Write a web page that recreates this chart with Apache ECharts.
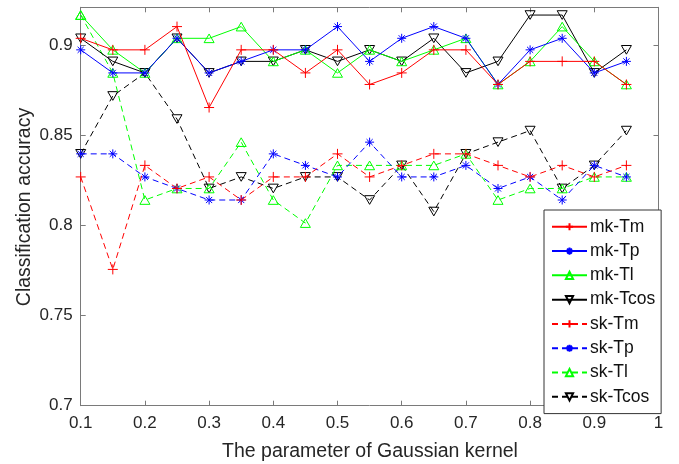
<!DOCTYPE html>
<html>
<head>
<meta charset="utf-8">
<script src="https://cdn.jsdelivr.net/npm/echarts@6/dist/echarts.min.js"></script>
<style>html,body{margin:0;padding:0;background:#fff;}#c{width:679px;height:464px;}</style>
</head>
<body>
<div id="c"></div>
<script>
const xVals = [0.1,0.15,0.2,0.25,0.3,0.35,0.4,0.45,0.5,0.55,0.6,0.65,0.7,0.75,0.8,0.85,0.9,0.95];
const xTicks = [0.1,0.2,0.3,0.4,0.5,0.6,0.7,0.8,0.9,1];
const yTicks = [0.7,0.75,0.8,0.85,0.9];
const xTitle = 'The parameter of Gaussian kernel';
const yTitle = 'Classification accuracy';
const seriesNames = ['mk-Tm','mk-Tp','mk-Tl','mk-Tcos','sk-Tm','sk-Tp','sk-Tl','sk-Tcos'];
const mkTm   = [0.9038,0.8974,0.8974,0.9103,0.8654,0.8974,0.8974,0.8846,0.8974,0.8782,0.8846,0.8974,0.8974,0.8782,0.8910,0.8910,0.8910,0.8782];
const mkTp   = [0.8974,0.8846,0.8846,0.9038,0.8846,0.8910,0.8974,0.8974,0.9103,0.8910,0.9038,0.9103,0.9038,0.8782,0.8974,0.9038,0.8846,0.8910];
const mkTl   = [0.9167,0.8974,0.8846,0.9038,0.9038,0.9103,0.8910,0.8974,0.8846,0.8974,0.8910,0.8974,0.9038,0.8782,0.8910,0.9103,0.8910,0.8782];
const mkTcos = [0.9038,0.8910,0.8846,0.9038,0.8846,0.8910,0.8910,0.8974,0.8910,0.8974,0.8910,0.9038,0.8846,0.8910,0.9167,0.9167,0.8846,0.8974];
const skTm   = [0.8269,0.7756,0.8333,0.8205,0.8269,0.8141,0.8269,0.8269,0.8397,0.8269,0.8333,0.8397,0.8397,0.8333,0.8269,0.8333,0.8269,0.8333];
const skTp   = [0.8397,0.8397,0.8269,0.8205,0.8141,0.8141,0.8397,0.8333,0.8269,0.8462,0.8269,0.8269,0.8333,0.8205,0.8269,0.8141,0.8333,0.8269];
const skTl   = [0.9167,0.8846,0.8141,0.8205,0.8205,0.8462,0.8141,0.8013,0.8333,0.8333,0.8333,0.8333,0.8397,0.8141,0.8205,0.8205,0.8269,0.8269];
const skTcos = [0.8397,0.8718,0.8846,0.8590,0.8205,0.8269,0.8205,0.8269,0.8269,0.8141,0.8333,0.8077,0.8397,0.8462,0.8526,0.8205,0.8333,0.8526];

const allData = [mkTm,mkTp,mkTl,mkTcos,skTm,skTp,skTl,skTcos];
const colors = ['#ff0000','#0000ff','#00ff00','#000000','#ff0000','#0000ff','#00ff00','#000000'];
const PLUS = 'path://M0,5L10,5M5,0L5,10';
const STAR = 'path://M0,5L10,5M5,0L5,10M1.6,1.6L8.4,8.4M1.6,8.4L8.4,1.6';
const TUP = 'path://M5,0L10,8.66L0,8.66Z';
const TDN = 'path://M0,0L10,0L5,8.66Z';
const symbols = [PLUS,STAR,TUP,TDN,PLUS,STAR,TUP,TDN];
const sizes = [10,9,10,10,10,9,10,10];
const FONT = '"Liberation Sans", Arial, Helvetica, sans-serif';
const AX = '#7a7a7a';

const series = seriesNames.map((n,i)=>({
  name:n, type:'line',
  data: xVals.map((x,j)=>[x, allData[i][j]]),
  symbol: symbols[i], symbolSize: sizes[i], symbolKeepAspect:true,
  showAllSymbol:true,
  color: colors[i],
  lineStyle:{color:colors[i], width:1, type: i<4 ? 'solid' : [6,4]},
  itemStyle:{color:'rgba(0,0,0,0)', borderColor:colors[i], borderWidth:1},
  emphasis:{disabled:true},
  animation:false,
  z: 10 - i
}));

const chart = echarts.init(document.getElementById('c'));
chart.setOption({
  backgroundColor:'#fff',
  animation:false,
  grid:{left:80.7, right:20.5, top:7.3, bottom:58.3, containLabel:false},
  xAxis:[{
    type:'value', min:0.1, max:1, position:'bottom',
    axisLine:{show:true, lineStyle:{color:AX, width:1}},
    axisTick:{show:true, inside:true, length:5, customValues:xTicks, lineStyle:{color:AX}},
    axisLabel:{show:true, customValues:xTicks, margin:9, fontFamily:FONT, fontSize:17, color:'#262626',
      hideOverlap:false, formatter:v=>String(+v.toFixed(2))},
    splitLine:{show:false}
  },{
    type:'value', min:0.1, max:1, position:'top',
    axisLine:{show:true, onZero:false, lineStyle:{color:AX, width:1}},
    axisTick:{show:true, inside:true, length:5, customValues:xTicks, lineStyle:{color:AX}},
    axisLabel:{show:false}, splitLine:{show:false}
  }],
  yAxis:[{
    type:'value', min:0.7, max:0.921, position:'left',
    axisLine:{show:true, lineStyle:{color:AX, width:1}},
    axisTick:{show:true, inside:true, length:5, customValues:yTicks, lineStyle:{color:AX}},
    axisLabel:{show:true, customValues:yTicks, margin:8, fontFamily:FONT, fontSize:17, color:'#262626',
      hideOverlap:false, formatter:v=>String(+v.toFixed(2))},
    splitLine:{show:false}
  },{
    type:'value', min:0.7, max:0.921, position:'right',
    axisLine:{show:true, onZero:false, lineStyle:{color:AX, width:1}},
    axisTick:{show:true, inside:true, length:5, customValues:yTicks, lineStyle:{color:AX}},
    axisLabel:{show:false}, splitLine:{show:false}
  }],
  graphic:[
    {type:'text', x:370, y:452, style:{text:xTitle, fontFamily:FONT, fontSize:19.5, fill:'#262626', align:'center', verticalAlign:'middle'}},
    {type:'text', x:25, y:207, rotation:Math.PI/2, style:{text:yTitle, fontFamily:FONT, fontSize:19.5, fill:'#262626', align:'center', verticalAlign:'middle'}}
  ],
  legend:{
    data:seriesNames, orient:'vertical', left:544, top:210,
    width:121, itemWidth:35, itemHeight:9, itemGap:4.8,
    padding:[7,6,7,7],
    backgroundColor:'#fff', borderColor:'#333', borderWidth:1,
    textStyle:{fontFamily:FONT, fontSize:17.5, lineHeight:19.5, color:'#111', padding:[0,0,0,-2]},
    selectedMode:false
  },
  series: series
});
</script>
</body>
</html>
